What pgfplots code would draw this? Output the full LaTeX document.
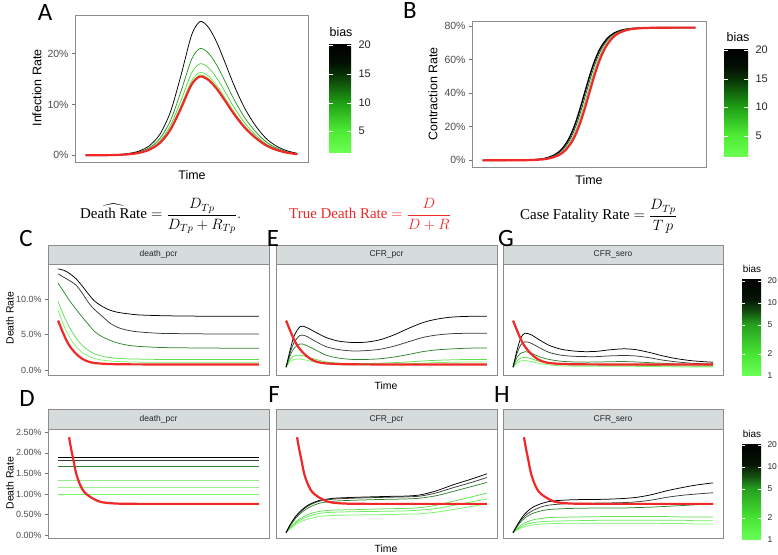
\RequirePackage{fix-cm}
\documentclass[border=0pt]{standalone}
\usepackage{amsmath}
\usepackage{fontspec}
\setmainfont{Liberation Sans}
\newfontfamily\letterfont{Carlito}
\newfontfamily\formfont{Liberation Serif}
\usepackage{pgfplots}
\pgfplotsset{compat=1.18}
\usepackage{pgfplotstable}

\newcommand\fs[1]{\fontsize{#1}{#1}\selectfont}

% line colours
\definecolor{redc}{RGB}{240,40,40}
\definecolor{k10}{RGB}{50,64,50}
\definecolor{k5}{RGB}{50,130,50}
\definecolor{k2}{RGB}{95,222,80}
\definecolor{k15}{RGB}{108,236,92}
\definecolor{k1}{RGB}{122,246,106}
\definecolor{a10}{RGB}{40,150,35}
\definecolor{a5}{RGB}{85,215,65}
\definecolor{a2}{RGB}{105,238,85}
\definecolor{a1}{RGB}{118,248,100}
\definecolor{stripc}{RGB}{214,220,220}
% colour bars
\definecolor{lb0}{rgb}{0.42,1,0.32}
\definecolor{lb1}{rgb}{0.3,0.92,0.2}
\definecolor{lb2}{rgb}{0.12,0.62,0.08}
\definecolor{lb3}{rgb}{0.03,0.18,0.02}
\definecolor{lb4}{rgb}{0.01,0.06,0.01}
\pgfdeclareverticalshading{linbar}{100bp}{color(0bp)=(lb0); color(25bp)=(lb0); color(35.5bp)=(lb1); color(48.5bp)=(lb2); color(62bp)=(lb3); color(67bp)=(lb4); color(75bp)=(black); color(100bp)=(black)}
\definecolor{gb0}{rgb}{0.42,1,0.34}
\definecolor{gb1}{rgb}{0.28,0.9,0.2}
\definecolor{gb2}{rgb}{0.15,0.62,0.12}
\definecolor{gb3}{rgb}{0.07,0.3,0.06}
\definecolor{gb4}{rgb}{0.02,0.08,0.02}
\pgfdeclareverticalshading{logbar}{100bp}{color(0bp)=(gb0); color(25bp)=(gb0); color(36.5bp)=(gb1); color(52bp)=(gb2); color(59bp)=(gb3); color(65bp)=(gb4); color(75bp)=(black); color(100bp)=(black)}

% ---- data ----
\pgfplotstableread{
x b20 b10 b5 b2 b1 red
0 0.01 0.01 0.01 0.01 0.01 0.01
10 0.07 0.05 0.05 0.04 0.04 0.04
15 0.16 0.13 0.11 0.10 0.09 0.09
20 0.36 0.29 0.25 0.22 0.22 0.21
25 0.82 0.65 0.56 0.51 0.49 0.48
30 1.86 1.48 1.27 1.15 1.12 1.10
35 4.10 3.28 2.81 2.54 2.46 2.42
40 8.49 6.78 5.81 5.26 5.10 5.01
45 15.67 12.52 10.73 9.71 9.42 9.24
50 23.59 18.84 16.15 14.62 14.17 13.90
54 26.30 21.00 18.00 16.30 15.80 15.50
58 25.17 20.10 17.23 15.60 15.12 14.83
62 22.14 17.68 15.16 13.72 13.30 13.05
66 18.07 14.43 12.37 11.20 10.85 10.65
70 13.86 11.07 9.49 8.59 8.33 8.17
75 9.36 7.48 6.41 5.80 5.62 5.52
80 5.97 4.77 4.09 3.70 3.59 3.52
85 3.42 2.73 2.34 2.12 2.05 2.02
90 1.84 1.47 1.26 1.14 1.11 1.09
95 0.92 0.74 0.63 0.57 0.55 0.54
100 0.39 0.32 0.27 0.24 0.24 0.23
}\tabA

\pgfplotstableread{
x b20 b10 b5 b2 b1
0 14.3 13.6 12.3 9.7 8.5
3 14.1 13.1 11.0 7.6 6.2
6 13.6 12.6 9.7 5.9 4.5
9 12.9 12.0 8.6 4.5 3.3
12 11.9 10.9 7.5 3.5 2.5
15 10.8 9.6 6.5 2.8 2.0
18 9.8 8.6 5.5 2.3 1.65
22 9.0 7.6 4.7 1.95 1.4
26 8.45 6.6 4.2 1.75 1.28
30 8.15 6.0 3.8 1.65 1.2
35 7.95 5.6 3.5 1.58 1.15
40 7.8 5.4 3.35 1.55 1.12
50 7.7 5.2 3.2 1.5 1.1
60 7.65 5.15 3.15 1.5 1.1
80 7.6 5.1 3.1 1.5 1.1
100 7.6 5.1 3.1 1.5 1.1
}\tabC

\pgfplotstableread{
x red
0 7.0
2 5.6
4 4.3
6 3.3
9 2.3
12 1.6
15 1.2
18 1.0
22 0.9
26 0.85
30 0.82
40 0.8
60 0.79
100 0.78
}\tabRedUp

\pgfplotstableread{
x b20 b10 b5 b2 b1
0 0.4 0.4 0.4 0.4 0.4
2 2.8 2.4 2.0 1.5 1.2
4 4.8 3.9 3.1 2.0 1.5
7 6.15 4.9 3.7 2.1 1.55
10 6.05 4.8 3.5 1.9 1.4
15 5.3 4.0 2.8 1.5 1.1
20 4.6 3.3 2.1 1.15 0.88
26 4.1 2.9 1.7 0.98 0.77
33 3.9 2.7 1.5 0.92 0.72
40 3.95 2.75 1.5 0.92 0.72
47 4.3 2.95 1.6 0.97 0.75
54 5.0 3.4 1.85 1.05 0.8
61 5.9 4.0 2.2 1.15 0.88
68 6.7 4.6 2.6 1.28 0.97
75 7.2 4.95 2.85 1.38 1.05
83 7.5 5.15 3.0 1.45 1.1
92 7.6 5.2 3.1 1.5 1.15
100 7.6 5.2 3.1 1.5 1.15
}\tabE

\pgfplotstableread{
x b20 b10 b5 b2 b1
0 0.4 0.4 0.4 0.4 0.4
2 2.8 2.4 1.8 1.3 1.0
4 4.6 3.6 2.4 1.7 1.3
6 5.2 4.0 2.6 1.8 1.35
9 5.0 3.8 2.4 1.6 1.2
13 4.3 3.2 1.9 1.25 0.95
18 3.5 2.5 1.5 0.95 0.72
24 2.95 2.1 1.25 0.8 0.6
30 2.7 1.95 1.15 0.72 0.55
36 2.6 1.9 1.12 0.7 0.53
42 2.65 1.9 1.13 0.7 0.52
48 2.85 2.0 1.17 0.71 0.52
55 3.0 2.05 1.2 0.72 0.53
61 2.9 2.0 1.15 0.7 0.52
68 2.5 1.75 1.05 0.65 0.5
75 2.0 1.4 0.95 0.61 0.48
82 1.6 1.15 0.85 0.58 0.45
90 1.3 0.95 0.77 0.55 0.43
100 1.1 0.85 0.7 0.52 0.42
}\tabG

\pgfplotstableread{
x b20 b10 b5 b2 b15 b1
0 1.89 1.82 1.66 1.34 1.17 1.00
100 1.89 1.82 1.66 1.34 1.17 1.00
}\tabD

\pgfplotstableread{
x red
5.5 2.38
6.5 2.1
7.6 1.84
9 1.5
11 1.22
13 1.05
16 0.93
21 0.81
28 0.77
40 0.76
100 0.76
}\tabRedLo

\pgfplotstableread{
x b20 b10 b5 b2 b15 b1
0 0.06 0.06 0.06 0.06 0.06 0.06
2 0.25 0.24 0.22 0.18 0.17 0.15
5 0.47 0.45 0.42 0.33 0.30 0.27
8 0.62 0.60 0.56 0.43 0.39 0.34
11 0.73 0.71 0.66 0.50 0.45 0.39
14 0.80 0.78 0.73 0.55 0.50 0.43
17 0.85 0.83 0.78 0.58 0.53 0.46
21 0.88 0.86 0.81 0.60 0.55 0.47
25 0.90 0.88 0.83 0.61 0.56 0.48
35 0.92 0.90 0.85 0.62 0.57 0.49
50 0.94 0.92 0.87 0.64 0.58 0.50
60 0.95 0.93 0.88 0.65 0.59 0.51
67 0.98 0.95 0.90 0.67 0.61 0.52
75 1.08 1.03 0.96 0.73 0.65 0.56
83 1.22 1.15 1.06 0.82 0.72 0.62
91.5 1.35 1.27 1.17 0.92 0.80 0.69
100 1.49 1.40 1.28 1.02 0.88 0.76
}\tabF

\pgfplotstableread{
x b20 b10 b5 b2 b15 b1
0 0.06 0.06 0.06 0.06 0.06 0.06
3 0.32 0.30 0.27 0.20 0.17 0.15
6 0.52 0.47 0.42 0.30 0.25 0.21
10 0.68 0.60 0.53 0.37 0.30 0.25
15 0.78 0.70 0.60 0.41 0.33 0.27
20 0.83 0.74 0.63 0.43 0.34 0.28
30 0.86 0.77 0.65 0.44 0.35 0.29
45 0.87 0.78 0.66 0.45 0.36 0.29
55 0.89 0.79 0.66 0.45 0.36 0.29
62 0.92 0.81 0.67 0.45 0.36 0.29
69 0.98 0.85 0.68 0.45 0.36 0.29
77 1.08 0.92 0.70 0.45 0.36 0.28
85 1.16 0.97 0.72 0.44 0.36 0.28
92 1.22 1.00 0.74 0.44 0.35 0.27
100 1.27 1.03 0.76 0.44 0.35 0.27
}\tabH

\pgfplotsset{
  base/.style={scale only axis, anchor=north west, xmin=-5, xmax=105,
    xtick=\empty, axis line style={black!45}, tick style={black!55, line width=0.5bp},
    major tick length=3bp, tick align=outside, ytick pos=left,
    yticklabel style={text=black!70, font=\fs{10.5}}},
  facet/.style={base, width=221bp, yticklabel style={font=\fs{9}}},
  up/.style={facet, height=111bp, ymin=-0.7, ymax=15},
  lo/.style={facet, height=109bp, ymin=-0.07, ymax=2.58},
  ln/.style={line width=0.75bp, smooth, no markers},
  rd/.style={line width=2.2bp, color=redc, smooth, no markers},
}

\begin{document}
\begin{tikzpicture}[x=1bp,y=1bp]
\path[use as bounding box] (0,0) rectangle (778,555);

% ---------- A ----------
\begin{axis}[base, at={(75bp,540bp)}, width=233bp, height=147bp,
  ymin=-1.3, ymax=27.6, ytick={0,10,20}, yticklabels={0\%,10\%,20\%}]
\addplot[ln, color=a1] table[x=x,y=b1]{\tabA};
\addplot[ln, color=a2] table[x=x,y=b2]{\tabA};
\addplot[ln, color=a5] table[x=x,y=b5]{\tabA};
\addplot[ln, color=a10] table[x=x,y=b10]{\tabA};
\addplot[ln, color=black] table[x=x,y=b20]{\tabA};
\addplot[rd] table[x=x,y=red]{\tabA};
\end{axis}

% ---------- B ----------
\begin{axis}[base, at={(472bp,534bp)}, width=234bp, height=146bp,
  ymin=-3.95, ymax=82.95, ytick={0,20,40,60,80}, yticklabels={0\%,20\%,40\%,60\%,80\%}]
\addplot[ln, color=black, line width=1.4bp] coordinates {(0,0) (9.8,0.02) (19.8,0.15) (25.8,0.56) (29.8,1.35) (33.8,3.25) (36.8,6.13) (39.8,11.2) (41.8,16.25) (43.8,22.83) (45.8,30.76) (47.8,39.5) (49.8,48.24) (51.8,56.16) (53.8,62.75) (55.8,67.8) (58.8,72.86) (61.8,75.75) (65.8,77.65) (69.8,78.44) (75.8,78.85) (85.8,78.98) (100,79.0)};
\addplot[ln, color=k10] coordinates {(0,0) (10.5,0.02) (20.5,0.15) (26.5,0.56) (30.5,1.35) (34.5,3.25) (37.5,6.13) (40.5,11.2) (42.5,16.25) (44.5,22.83) (46.5,30.76) (48.5,39.5) (50.5,48.24) (52.5,56.16) (54.5,62.75) (56.5,67.8) (59.5,72.86) (62.5,75.75) (66.5,77.65) (70.5,78.44) (76.5,78.85) (86.5,78.98) (100,79.0)};
\addplot[ln, color=k2] coordinates {(0,0) (11.2,0.02) (21.2,0.15) (27.2,0.56) (31.2,1.35) (35.2,3.25) (38.2,6.13) (41.2,11.2) (43.2,16.25) (45.2,22.83) (47.2,30.76) (49.2,39.5) (51.2,48.24) (53.2,56.16) (55.2,62.75) (57.2,67.8) (60.2,72.86) (63.2,75.75) (67.2,77.65) (71.2,78.44) (77.2,78.85) (87.2,78.98) (100,79.0)};
\addplot[rd] coordinates {(0,0) (12,0.02) (22,0.15) (28,0.56) (32,1.35) (36,3.25) (39,6.13) (42,11.2) (44,16.25) (46,22.83) (48,30.76) (50,39.5) (52,48.24) (54,56.16) (56,62.75) (58,67.8) (61,72.86) (64,75.75) (68,77.65) (72,78.44) (78,78.85) (88,78.98) (100,79.0)};
\end{axis}

% ---------- C ----------
\begin{axis}[up, at={(48bp,291bp)}, ytick={0,5,10}, yticklabels={0.0\%,5.0\%,10.0\%}]
\addplot[ln, color=k1] table[x=x,y=b1]{\tabC};
\addplot[ln, color=k2] table[x=x,y=b2]{\tabC};
\addplot[ln, color=k5] table[x=x,y=b5]{\tabC};
\addplot[ln, color=k10] table[x=x,y=b10]{\tabC};
\addplot[ln, color=black] table[x=x,y=b20]{\tabC};
\addplot[rd] table[x=x,y=red]{\tabRedUp};
\end{axis}

% ---------- E ----------
\begin{axis}[up, at={(276bp,291bp)}, ytick=\empty]
\addplot[ln, color=k1] table[x=x,y=b1]{\tabE};
\addplot[ln, color=k2] table[x=x,y=b2]{\tabE};
\addplot[ln, color=k5] table[x=x,y=b5]{\tabE};
\addplot[ln, color=k10] table[x=x,y=b10]{\tabE};
\addplot[ln, color=black] table[x=x,y=b20]{\tabE};
\addplot[rd] table[x=x,y=red]{\tabRedUp};
\end{axis}

% ---------- G ----------
\begin{axis}[up, at={(503bp,291bp)}, width=220bp, ytick=\empty]
\addplot[ln, color=k1] table[x=x,y=b1]{\tabG};
\addplot[ln, color=k2] table[x=x,y=b2]{\tabG};
\addplot[ln, color=k5] table[x=x,y=b5]{\tabG};
\addplot[ln, color=k10] table[x=x,y=b10]{\tabG};
\addplot[ln, color=black] table[x=x,y=b20]{\tabG};
\addplot[rd] table[x=x,y=red]{\tabRedUp};
\end{axis}

% ---------- D ----------
\begin{axis}[lo, at={(48bp,126bp)}, ytick={0,0.5,1,1.5,2,2.5},
  yticklabels={0.00\%,0.50\%,1.00\%,1.50\%,2.00\%,2.50\%}]
\addplot[ln, color=k1] table[x=x,y=b1]{\tabD};
\addplot[ln, color=k15] table[x=x,y=b15]{\tabD};
\addplot[ln, color=k2] table[x=x,y=b2]{\tabD};
\addplot[ln, color=k5] table[x=x,y=b5]{\tabD};
\addplot[ln, color=k10] table[x=x,y=b10]{\tabD};
\addplot[ln, color=black] table[x=x,y=b20]{\tabD};
\addplot[rd] table[x=x,y=red]{\tabRedLo};
\end{axis}

% ---------- F ----------
\begin{axis}[lo, at={(276bp,126bp)}, ytick=\empty]
\addplot[ln, color=k1] table[x=x,y=b1]{\tabF};
\addplot[ln, color=k15] table[x=x,y=b15]{\tabF};
\addplot[ln, color=k2] table[x=x,y=b2]{\tabF};
\addplot[ln, color=k5] table[x=x,y=b5]{\tabF};
\addplot[ln, color=k10] table[x=x,y=b10]{\tabF};
\addplot[ln, color=black] table[x=x,y=b20]{\tabF};
\addplot[rd] table[x=x,y=red]{\tabRedLo};
\end{axis}

% ---------- H ----------
\begin{axis}[lo, at={(503bp,126bp)}, width=220bp, ytick=\empty]
\addplot[ln, color=k1] table[x=x,y=b1]{\tabH};
\addplot[ln, color=k15] table[x=x,y=b15]{\tabH};
\addplot[ln, color=k2] table[x=x,y=b2]{\tabH};
\addplot[ln, color=k5] table[x=x,y=b5]{\tabH};
\addplot[ln, color=k10] table[x=x,y=b10]{\tabH};
\addplot[ln, color=black] table[x=x,y=b20]{\tabH};
\addplot[rd] table[x=x,y=red]{\tabRedLo};
\end{axis}

% ---------- facet strips ----------
\begin{scope}[every node/.style={font=\fs{8.5}, text=black!85}]
\draw[fill=stripc, draw=black!45] (48,291) rectangle (269,310) node[midway] {death\_pcr};
\draw[fill=stripc, draw=black!45] (276,291) rectangle (497,310) node[midway] {CFR\_pcr};
\draw[fill=stripc, draw=black!45] (503,291) rectangle (723,310) node[midway] {CFR\_sero};
\draw[fill=stripc, draw=black!45] (48,126) rectangle (269,146) node[midway] {death\_pcr};
\draw[fill=stripc, draw=black!45] (276,126) rectangle (497,146) node[midway] {CFR\_pcr};
\draw[fill=stripc, draw=black!45] (503,126) rectangle (723,146) node[midway] {CFR\_sero};
\end{scope}

% ---------- axis titles ----------
\node[rotate=90, font=\fs{12.5}] at (37,467) {Infection Rate};
\node[font=\fs{12.5}] at (192,380) {Time};
\node[rotate=90, font=\fs{12.5}] at (433,461) {Contraction Rate};
\node[font=\fs{12.5}] at (589,375) {Time};
\node[rotate=90, font=\fs{10.5}] at (10,237) {Death Rate};
\node[font=\fs{10.5}] at (386,169) {Time};
\node[rotate=90, font=\fs{10.5}] at (10,72) {Death Rate};
\node[font=\fs{10.5}] at (386,6) {Time};

% ---------- colour bars ----------
\node[font=\fs{12.5}] at (341,523) {bias};
\shade[shading=linbar] (329,402) rectangle (351,510);
\foreach \y/\l in {510/20,481/15,452/10,424/5} {
  \draw[white, line width=0.6bp] (329,\y) -- (333,\y) (347,\y) -- (351,\y);
  \node[anchor=west, font=\fs{11}, text=black!85] at (355,\y) {\l};
}
\node[font=\fs{12.5}] at (738,518) {bias};
\shade[shading=linbar] (724,398) rectangle (748,505);
\foreach \y/\l in {505/20,476/15,448/10,419/5} {
  \draw[white, line width=0.6bp] (724,\y) -- (728,\y) (744,\y) -- (748,\y);
  \node[anchor=west, font=\fs{11}, text=black!85] at (752,\y) {\l};
}
\node[font=\fs{10}] at (752,286) {bias};
\shade[shading=logbar] (742,179) rectangle (761,275);
\foreach \y/\l in {274/20,252/10,230/5,201/2,179/1} {
  \draw[white, line width=0.6bp] (742,\y) -- (745,\y) (758,\y) -- (761,\y);
  \node[anchor=west, font=\fs{8.5}, text=black!85] at (764,\y) {\l};
}
\node[font=\fs{10}] at (752,121) {bias};
\shade[shading=logbar] (742,15) rectangle (761,110);
\foreach \y/\l in {110/20,88/10,66/5,37/2,15/1} {
  \draw[white, line width=0.6bp] (742,\y) -- (745,\y) (758,\y) -- (761,\y);
  \node[anchor=west, font=\fs{8.5}, text=black!85] at (764,\y) {\l};
}

% ---------- formulas ----------
\node[anchor=base west, inner sep=0] at (80,336)
  {\formfont\fs{15}$\widehat{\text{Death Rate}} = \dfrac{D_{Tp}}{D_{Tp}+R_{Tp}}.$};
\node[anchor=base west, inner sep=0, text=redc] at (289,336)
  {\formfont\fs{15}True Death Rate $= \dfrac{D}{D+R}$};
\node[anchor=base west, inner sep=0] at (520,335)
  {\formfont\fs{15}Case Fatality Rate $= \dfrac{D_{Tp}}{T\,p}$};

% ---------- panel letters ----------
\begin{scope}[every node/.style={font=\letterfont\fs{25}, inner sep=0}]
\node at (45,542) {A};
\node at (410,544) {B};
\node at (26,316.5) {C};
\node at (273,316.5) {E};
\node at (506,316.5) {G};
\node at (27,156) {D};
\node at (274,160) {F};
\node at (502,160) {H};
\end{scope}
\end{tikzpicture}
\end{document}
